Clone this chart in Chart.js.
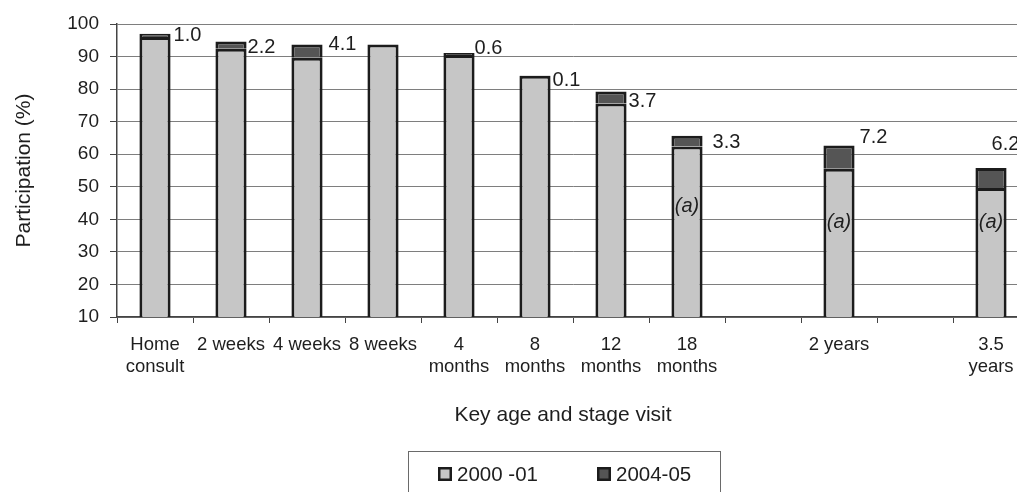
<!DOCTYPE html>
<html>
<head>
<meta charset="utf-8">
<script src="https://cdn.jsdelivr.net/npm/chart.js@4.4.1/dist/chart.umd.min.js"></script>
<style>
  html, body { margin: 0; padding: 0; overflow: hidden; background: #fff; }
  #wrap { width: 1030px; height: 492px; position: relative; }
</style>
</head>
<body>
<div id="wrap"><canvas id="visits"></canvas></div>
<script>
// Key age and stage visits (empty slots keep the time spacing)
const visits = [['Home', 'consult'], '2 weeks', '4 weeks', '8 weeks', ['4', 'months'], ['8', 'months'],
                ['12', 'months'], ['18', 'months'], '', '2 years', '', ['3.5', 'years']];
// Participation (%) in 2000-01
const base2000 = [96.0, 92.4, 89.6, 93.7, 90.5, 84.1, 75.6, 62.4, null, 55.5, null, 49.6];
// Increase in participation by 2004-05 (percentage points)
const rise2004 = [1.0, 2.2, 4.1, null, 0.6, 0.1, 3.7, 3.3, null, 7.2, null, 6.2];
const seriesNames = ['2000 -01', '2004-05'];
// Footnote markers inside the bars and the value level they sit at
const footnote = [null, null, null, null, null, null, null, '(a)', null, '(a)', null, '(a)'];
const footnoteLevel = [null, null, null, null, null, null, null, 44, null, 39, null, 39];
// Value axis range
const yMin = 10, yMax = 100, yStep = 10;

// Where each increase label sits relative to the top-right corner of its bar
const labelShift = [[3, 2], [1, 6], [6, 0], null, [0, -4], [2, 5], [2, 10], [10, 7], null, [5, -8], null, [-15, -23]];

const FONT = '"Liberation Sans", Arial, Helvetica, sans-serif';
const INK = '#1e1e1e';
const EDGE = '#1c1c1c';

const extras = {
  id: 'extras',
  afterDatasetsDraw(chart) {
    const ctx = chart.ctx;
    const lower = chart.getDatasetMeta(0).data;
    const upper = chart.getDatasetMeta(1).data;
    ctx.save();
    ctx.fillStyle = INK;
    ctx.textBaseline = 'middle';
    ctx.textAlign = 'left';
    ctx.font = '20px ' + FONT;
    rise2004.forEach((v, i) => {
      if (v == null || !labelShift[i]) return;
      const el = upper[i];
      const [dx, dy] = labelShift[i];
      ctx.fillText(v.toFixed(1), el.x + el.width / 2 + dx, el.y + dy);
    });
    ctx.textAlign = 'center';
    ctx.font = 'italic 20px ' + FONT;
    footnote.forEach((t, i) => {
      if (!t) return;
      ctx.fillText(t, lower[i].x, chart.scales.y.getPixelForValue(footnoteLevel[i]));
    });
    ctx.restore();
  },
  afterDraw(chart) {
    const ctx = chart.ctx;
    ctx.save();
    // x axis title
    ctx.fillStyle = INK;
    ctx.font = '21px ' + FONT;
    ctx.textAlign = 'center';
    ctx.textBaseline = 'middle';
    ctx.fillText('Key age and stage visit', 563, 415);
    // legend box
    ctx.strokeStyle = '#6a6a6a';
    ctx.lineWidth = 1;
    ctx.strokeRect(408.5, 451.5, 312, 60);
    const starts = [438, 597];
    ctx.textAlign = 'left';
    ctx.font = '20.5px ' + FONT;
    chart.data.datasets.forEach((ds, i) => {
      const x = starts[i];
      ctx.fillStyle = ds.backgroundColor;
      ctx.fillRect(x, 467, 14, 14);
      ctx.strokeStyle = EDGE;
      ctx.lineWidth = 2.5;
      ctx.strokeRect(x + 1.25, 468.25, 11.5, 11.5);
      ctx.fillStyle = INK;
      ctx.fillText(ds.label, x + 19, 475);
    });
    ctx.restore();
  }
};

new Chart(document.getElementById('visits'), {
  type: 'bar',
  data: {
    labels: visits,
    datasets: [
      { label: seriesNames[0], data: base2000, backgroundColor: '#c6c6c6',
        borderColor: EDGE, borderWidth: 3, borderSkipped: 'start' },
      { label: seriesNames[1], data: rise2004, backgroundColor: '#555555',
        borderColor: EDGE, borderWidth: 3, borderSkipped: 'start' }
    ]
  },
  options: {
    responsive: true,
    maintainAspectRatio: false,
    animation: false,
    devicePixelRatio: 1,
    layout: { padding: { top: 24, right: 1, bottom: 0, left: 0 } },
    datasets: { bar: { categoryPercentage: 1, barPercentage: 0.41 } },
    plugins: { legend: { display: false }, tooltip: { enabled: false } },
    scales: {
      x: {
        stacked: true,
        grid: { drawOnChartArea: false, drawTicks: true, tickLength: 6, color: '#444', offset: true },
        border: { display: true, color: '#444', width: 1.5 },
        ticks: { color: INK, font: { family: FONT, size: 18.5 }, padding: 11, maxRotation: 0, autoSkip: false },
        afterFit(scale) { scale.height = 175; }
      },
      y: {
        stacked: true,
        min: yMin,
        max: yMax,
        ticks: { stepSize: yStep, color: INK, font: { family: FONT, size: 19 }, padding: 11 },
        grid: { color: '#7e7e7e', tickLength: 7, tickColor: '#444' },
        border: { display: true, color: '#444', width: 1.5 },
        title: { display: true, text: 'Participation (%)', color: INK,
                 font: { family: FONT, size: 21 }, padding: { top: 12, bottom: 0 } },
        afterFit(scale) { scale.width = 117; }
      }
    }
  },
  plugins: [extras]
});
</script>
</body>
</html>
